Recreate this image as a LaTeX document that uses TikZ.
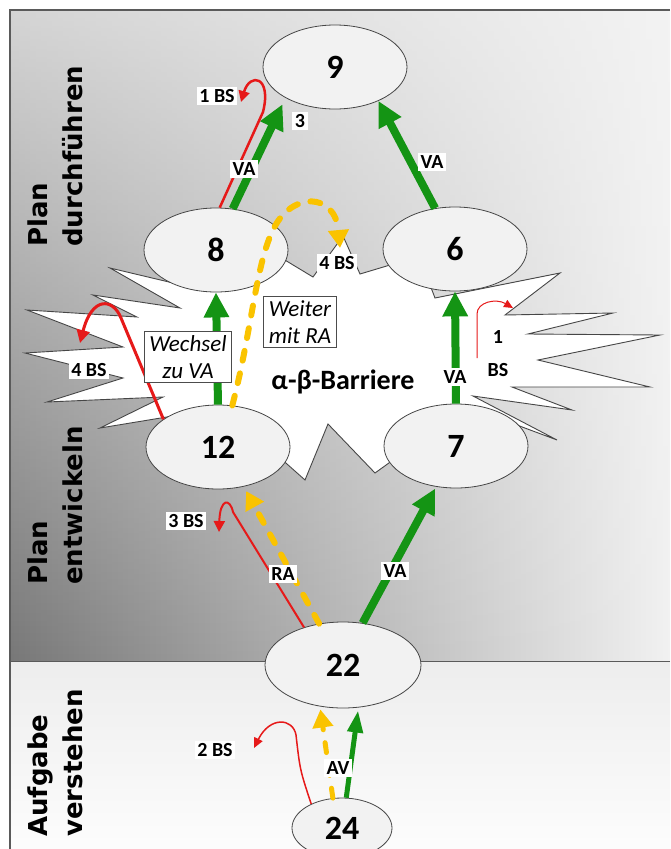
\documentclass[tikz,border=0pt]{standalone}
\usepackage{fontspec}
\setmainfont{Carlito}
\newfontfamily\sectfont{DejaVu Sans}
\usetikzlibrary{shapes.geometric,arrows.meta,fadings}

\definecolor{arrowgreen}{RGB}{20,148,20}
\definecolor{dashyellow}{RGB}{250,195,0}
\definecolor{loopred}{RGB}{230,25,25}
\definecolor{framegray}{RGB}{90,90,90}
\definecolor{bgdark}{gray}{0.47}
\definecolor{bglight}{gray}{0.945}
\definecolor{bgtop}{gray}{0.955}
\definecolor{outline}{RGB}{70,70,70}

\begin{document}
\begin{tikzpicture}[x=1pt,y=-1pt,
  state/.style={ellipse, draw=outline, line width=0.8pt, fill=black!5,
    minimum width=144pt, minimum height=84pt, inner sep=0pt,
    font=\fontsize{34}{38}\selectfont\bfseries},
  tag/.style={fill=white, inner sep=2.5pt, font=\fontsize{20}{23}\selectfont\bfseries},
  notebox/.style={draw=black!70, line width=1pt, fill=white, align=center,
    inner xsep=5pt, inner ysep=4pt, font=\fontsize{23}{27}\selectfont\itshape},
  phase/.style={rotate=90, anchor=west, align=left, inner sep=0pt,
    font=\sectfont\bfseries\fontsize{26}{35}\selectfont},
  goarrow/.style={draw=arrowgreen, line width=8pt, -{Triangle[length=25pt,width=24pt]}},
  raarrow/.style={draw=dashyellow, line width=6pt, dash pattern=on 10pt off 13pt,
    line cap=round, -{Triangle[length=18pt,width=20pt]}},
  bsarrow/.style={draw=loopred, -{Triangle[length=11pt,width=11pt]}},
]
\useasboundingbox (0,0) rectangle (670,849);
\fill[white] (0,0) rectangle (670,849);

% upper panel: dark towards the lower left, light towards the upper right
\shade[left color=bgdark, right color=bglight] (10,10) rectangle (670,661);
\fill[bgtop, path fading=south, fill opacity=0.75] (10,10) rectangle (670,661);
% lower panel
\shade[top color=black!7, bottom color=black!1] (10,661) rectangle (670,849);
\draw[framegray, line width=1pt] (10,661) -- (670,661);
\draw[framegray, line width=1.3pt] (10,849) -- (10,10) -- (670,10);

% phase names
\node[phase] (phplan) at (55,247) {Plan\\durchführen};
\node[phase] (phdev) at (55,585) {Plan\\entwickeln};
\node[phase] (phtask) at (55,837) {Aufgabe\\verstehen};

% barrier burst
\draw[draw=outline, line width=0.9pt, fill=white, line join=miter]
  (260,245) -- (313,277) -- (343,236) -- (360,274) -- (400,262) -- (430,285)
  -- (435,298) -- (560,273) -- (505,315) -- (613,313) -- (528,334) -- (660,335)
  -- (538,360) -- (650,387) -- (512,387) -- (572,410) -- (473,396) -- (557,440)
  -- (490,415) -- (400,455) -- (375,473) -- (328,424) -- (305,480) -- (260,440)
  -- (185,414) -- (100,428) -- (163,397) -- (47,402) -- (123,378) -- (25,353)
  -- (123,347) -- (27,310) -- (137,317) -- (93,295) -- (180,308) -- (110,268)
  -- (190,287) -- cycle;

% states
\node[state] (n9) at (335,67) {9};
\node[state] (n8) at (216,250) {8};
\node[state] (n6) at (455,249) {6};
\node[state] (n12) at (218,447) {12};
\node[state] (n7) at (456,446) {7};
\node[state, minimum width=156pt, minimum height=86pt] (n22) at (343,665) {22};
\node[state, minimum width=100pt, minimum height=60pt] (n24) at (342,828) {24};

% free ends of the side branches
\coordinate (bs1tip) at (241,102);
\coordinate (bs3tip) at (219,532);
\coordinate (bs2tip) at (254,748);
\coordinate (bs4tip) at (80,343);
\coordinate (bsrbase) at (477,358);
\coordinate (bsrtip) at (513,308);
\coordinate (loopend) at (340,248);

% main transitions
\draw[goarrow, shorten >=7pt] (n8.68) -- (n9.212);
\draw[goarrow] (n6.116) -- (n9.-38);
\draw[goarrow] (n12.north) -- (n8.south);
\draw[goarrow] (n7.north) -- (n6.south);
\draw[goarrow, shorten >=2pt] (n22.65) -- (n7.244);
\draw[raarrow, shorten >=5pt] (n22.120) -- (n12.303);
\draw[raarrow, line width=5pt, shorten >=3pt] (n24.107) -- (n22.241);
\draw[goarrow, line width=5pt, -{Triangle[length=22pt,width=15pt]}, shorten >=3pt]
  (n24.82) -- (n22.290);
\draw[raarrow] (n12.71) .. controls (252,330) and (256,262) .. (274,228)
  .. controls (292,192) and (335,192) .. (loopend);

% side branches
\draw[bsarrow, line width=2.5pt] (n8.85) -- (263,112)
  .. controls (272,76) and (250,72) .. (bs1tip);
\draw[bsarrow, line width=3pt, -{Triangle[length=13pt,width=13pt]}] (n12.153) -- (121,318)
  .. controls (113,298) and (92,296) .. (bs4tip);
\draw[bsarrow, line width=2pt] (n22.136) -- (233,512)
  .. controls (230,498) and (220,498) .. (bs3tip);
\draw[bsarrow, line width=1.5pt, -{Triangle[length=10pt,width=9pt]}] (n24.142)
  .. controls (300,770) .. (296,735)
  .. controls (293,718) and (270,716) .. (bs2tip);
\draw[bsarrow, line width=1pt, -{Triangle[length=9pt,width=8pt]}] (bsrbase) -- (477,314)
  .. controls (477,302) and (496,298) .. (bsrtip);

% labels
\node[tag] (t1bs) at (217,96) {1 BS};
\node[tag] (tthree) at (300,121) {3};
\node[tag] (tva89) at (244,169) {VA};
\node[tag] (tva69) at (432,162) {VA};
\node[tag] (t4bsy) at (337,263) {4 BS};
\node[tag] (t4bsr) at (89,370) {4 BS};
\node[align=center, inner sep=0pt, font=\fontsize{20}{33}\selectfont\bfseries]
  (t1bsr) at (498,354) {1\\BS};
\node[tag] (tva76) at (455,377) {VA};
\node[notebox] (switch) at (188,357) {Wechsel\\zu VA};
\node[notebox] (keep) at (300,322) {Weiter\\mit RA};
\node[font=\fontsize{28}{32}\selectfont\bfseries] (barrier) at (343,382) {α-β-Barriere};
\node[tag] (t3bs) at (186,521) {3 BS};
\node[tag] (tra) at (283,574) {RA};
\node[tag] (tva227) at (395,571) {VA};
\node[tag] (t2bs) at (215,750) {2 BS};
\node[tag] (tav) at (338,768) {AV};
\end{tikzpicture}
\end{document}
